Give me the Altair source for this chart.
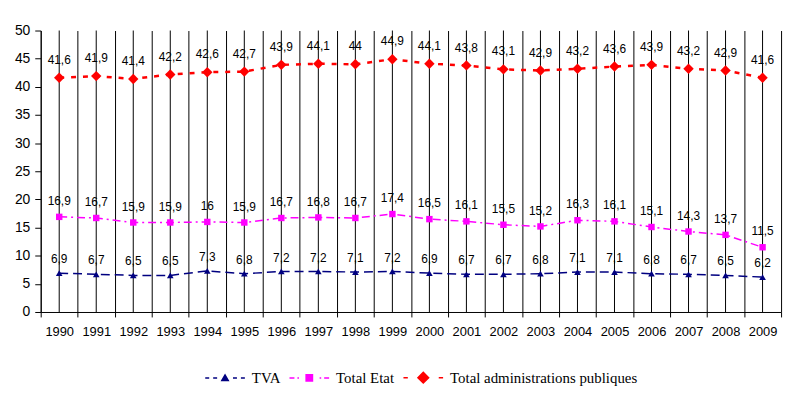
import altair as alt
import pandas as pd

years = [str(y) for y in range(1990, 2010)]
tva = [6.9, 6.7, 6.5, 6.5, 7.3, 6.8, 7.2, 7.2, 7.1, 7.2, 6.9, 6.7, 6.7, 6.8, 7.1, 7.1, 6.8, 6.7, 6.5, 6.2]
etat = [16.9, 16.7, 15.9, 15.9, 16, 15.9, 16.7, 16.8, 16.7, 17.4, 16.5, 16.1, 15.5, 15.2, 16.3, 16.1, 15.1, 14.3, 13.7, 11.5]
apu = [41.6, 41.9, 41.4, 42.2, 42.6, 42.7, 43.9, 44.1, 44, 44.9, 44.1, 43.8, 43.1, 42.9, 43.2, 43.6, 43.9, 43.2, 42.9, 41.6]

series_names = ["TVA", "Total Etat", "Total administrations publiques"]
series_values = [tva, etat, apu]
colors = ["#000080", "#FF00FF", "#FF0000"]

def fmt(v):
    s = ("%g" % v)
    return s.replace(".", ",")

rows = []
for name, vals in zip(series_names, series_values):
    for y, v in zip(years, vals):
        rows.append({"year": y, "series": name, "value": v, "label": fmt(v)})
df = pd.DataFrame(rows)

# legend symbols: dashed line + marker (custom SVG paths)
legend_paths = [
    "M-1,0L-0.8,0M-0.6,0L-0.4,0M0.4,0L0.6,0M0.8,0L1,0M-0.16,0.13L0,-0.15L0.16,0.13Z",
    "M-1,0L-0.75,0M-0.6,0L-0.52,0M0.52,0L0.6,0M0.75,0L1,0M-0.16,-0.16L0.16,-0.16L0.16,0.16L-0.16,0.16Z",
    "M-1,0L-0.78,0M0.78,0L1,0M-0.27,0L0,-0.27L0.27,0L0,0.27Z",
]

line_styles = {
    "TVA": dict(dash=[9, 5], width=1.5, shape="triangle-up", size=45, dy=-10),
    "Total Etat": dict(dash=[8, 4, 2, 4], width=1.5, shape="square", size=42, dy=-12),
    "Total administrations publiques": dict(dash=[5, 7], width=2.5, shape="diamond", size=110, dy=-14),
}

base = alt.Chart(df)

x_enc = alt.X(
    "year:O",
    scale=alt.Scale(paddingInner=0, paddingOuter=0),
    axis=alt.Axis(
        title=None, labelAngle=0, tickBand="extent", grid=True,
        gridColor="black", gridOpacity=1, gridWidth=1,
        domainColor="black", tickColor="black", tickSize=5,
        labelPadding=9, labelFont="Liberation Sans", labelFontSize=13,
        labelColor="black",
    ),
)
y_enc = alt.Y(
    "value:Q",
    scale=alt.Scale(domain=[0, 50]),
    axis=alt.Axis(
        title=None, values=list(range(0, 51, 5)), grid=False,
        domainColor="black", tickColor="black", tickSize=6,
        labelPadding=5, labelFont="Liberation Sans", labelFontSize=14,
        labelColor="black",
    ),
)

layers = []
# vertical lines through each category
layers.append(
    base.transform_filter(alt.datum.series == "TVA")
    .mark_rule(color="black", strokeWidth=1)
    .encode(x=x_enc)
)

for name, col in zip(series_names, colors):
    st = line_styles[name]
    sub = base.transform_filter(alt.datum.series == name)
    layers.append(
        sub.mark_line(color=col, strokeDash=st["dash"], strokeWidth=st["width"])
        .encode(x=x_enc, y=y_enc)
    )
    layers.append(
        sub.mark_point(shape=st["shape"], size=st["size"], filled=True, color=col, opacity=1)
        .encode(x=x_enc, y=y_enc)
    )
    layers.append(
        sub.mark_text(font="Liberation Sans", fontSize=12, color="black",
                      baseline="alphabetic", align="center", dy=st["dy"])
        .encode(x=x_enc, y=y_enc, text="label:N")
    )

leg = alt.Legend(
    title=None, orient="none", direction="horizontal",
    legendX=165, legendY=329,
    symbolSize=1600, symbolStrokeWidth=1.5,
    labelFont="Liberation Serif", labelFontSize=15, labelColor="black",
    labelOffset=6, columnPadding=6, symbolOpacity=1, labelLimit=0,
)
layers.append(
    base.transform_filter("false")
    .mark_point(filled=True, strokeWidth=1.5, opacity=1)
    .encode(
        x=x_enc, y=y_enc,
        shape=alt.Shape("series:N", scale=alt.Scale(domain=series_names, range=legend_paths), legend=leg),
        fill=alt.Fill("series:N", scale=alt.Scale(domain=series_names, range=colors), legend=leg),
        stroke=alt.Stroke("series:N", scale=alt.Scale(domain=series_names, range=colors), legend=leg),
    )
)

chart = (
    alt.layer(*layers)
    .properties(
        width=747, height=284,
        padding={"left": 33, "top": 21, "right": 8, "bottom": 80},
        autosize=alt.AutoSizeParams(type="none"),
        background="white",
    )
    .configure_view(stroke=None)
    .configure_legend(labelFont="Liberation Serif", labelFontSize=15, labelLimit=0, labelColor="black")
)

chart.save("out.html", embed_options={"renderer": "svg", "actions": False})
